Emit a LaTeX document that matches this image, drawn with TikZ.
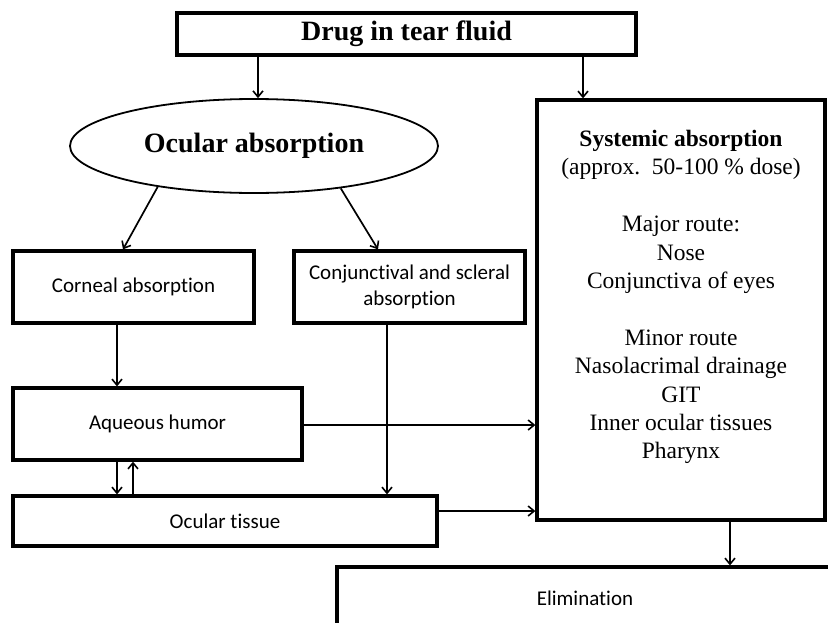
\documentclass[tikz,border=0pt]{standalone}
\usepackage{fontspec}
\setmainfont{Liberation Serif}
\newfontfamily\carl[Ligatures=NoCommon]{Carlito}
\usetikzlibrary{shapes.geometric,arrows.meta}
\begin{document}
\begin{tikzpicture}[x=1pt,y=-1pt,
  box/.style={draw, line width=3.3pt, rectangle, inner sep=0pt, align=center,
    font=\carl\fontsize{21}{26}\selectfont},
  titlefont/.style={font=\bfseries\fontsize{28}{32}\selectfont},
  arr/.style={line width=1.7pt, -{Straight Barb[length=6pt,width=10pt,line width=1.6pt]}},
]
\useasboundingbox (0,0) rectangle (828,622);
\clip (0,0) rectangle (828,622);
\fill[white] (0,0) rectangle (828,622);

% boxes
\node[box, titlefont, line width=3.6pt, minimum width=459pt, minimum height=42pt] (top) at (406.5,34) {Drug in tear fluid};
\node[draw, ellipse, line width=1.8pt, inner sep=0pt, minimum width=368pt, minimum height=94pt, titlefont] (ell) at (254,146) {Ocular absorption};
\node[box, minimum width=241pt, minimum height=72pt] (cor) at (133.5,287) {Corneal absorption};
\node[box, minimum width=231pt, minimum height=72pt] (conj) at (409.5,287) {Conjunctival and scleral\\absorption};
\node[box, minimum width=288pt, minimum height=420pt] (sys) at (681,310) {};
\node[inner sep=0pt, align=center, anchor=north, font=\fontsize{23.5}{28.4}\selectfont] (systxt) at (681,130)
  {\textbf{Systemic absorption}\\(approx.\ \ 50-100 \% dose)\\[28.4pt]Major route:\\Nose\\Conjunctiva of eyes\\[28.4pt]Minor route\\Nasolacrimal drainage\\GIT\\Inner ocular tissues\\Pharynx};
\node[box, minimum width=289pt, minimum height=72pt] (aq) at (157.5,424) {Aqueous humor};
\node[box, minimum width=424pt, minimum height=50pt] (oc) at (225,521) {Ocular tissue};
\node[box, minimum width=496pt, minimum height=62pt] (elim) at (585,598) {Elimination};

% helper coordinates
\coordinate (xa) at (258,0);
\coordinate (xb) at (583,0);
\coordinate (xc) at (123,0);
\coordinate (xd) at (378,0);
\coordinate (xe) at (117,0);
\coordinate (xf) at (387,0);
\coordinate (xg) at (133,0);
\coordinate (xh) at (730,0);
\coordinate (ya) at (0,425);
\coordinate (yb) at (0,511);

% connectors
\draw[arr] (xa |- top.south) -- (xa |- ell.north);
\draw[arr] (xb |- top.south) -- (xb |- sys.north);
\draw[arr] (ell.203) -- (xc |- cor.north);
\draw[arr] (ell.334) -- (xd |- conj.north);
\draw[arr] (xe |- cor.south) -- (xe |- aq.north);
\draw[arr] (xf |- conj.south) -- (xf |- oc.north);
\draw[arr] (xe |- aq.south) -- (xe |- oc.north);
\draw[arr] (xg |- oc.north) -- (xg |- aq.south);
\draw[arr] (aq.east |- ya) -- (sys.west |- ya);
\draw[arr] (oc.east |- yb) -- (sys.west |- yb);
\draw[arr] (xh |- sys.south) -- (xh |- elim.north);
\end{tikzpicture}
\end{document}
